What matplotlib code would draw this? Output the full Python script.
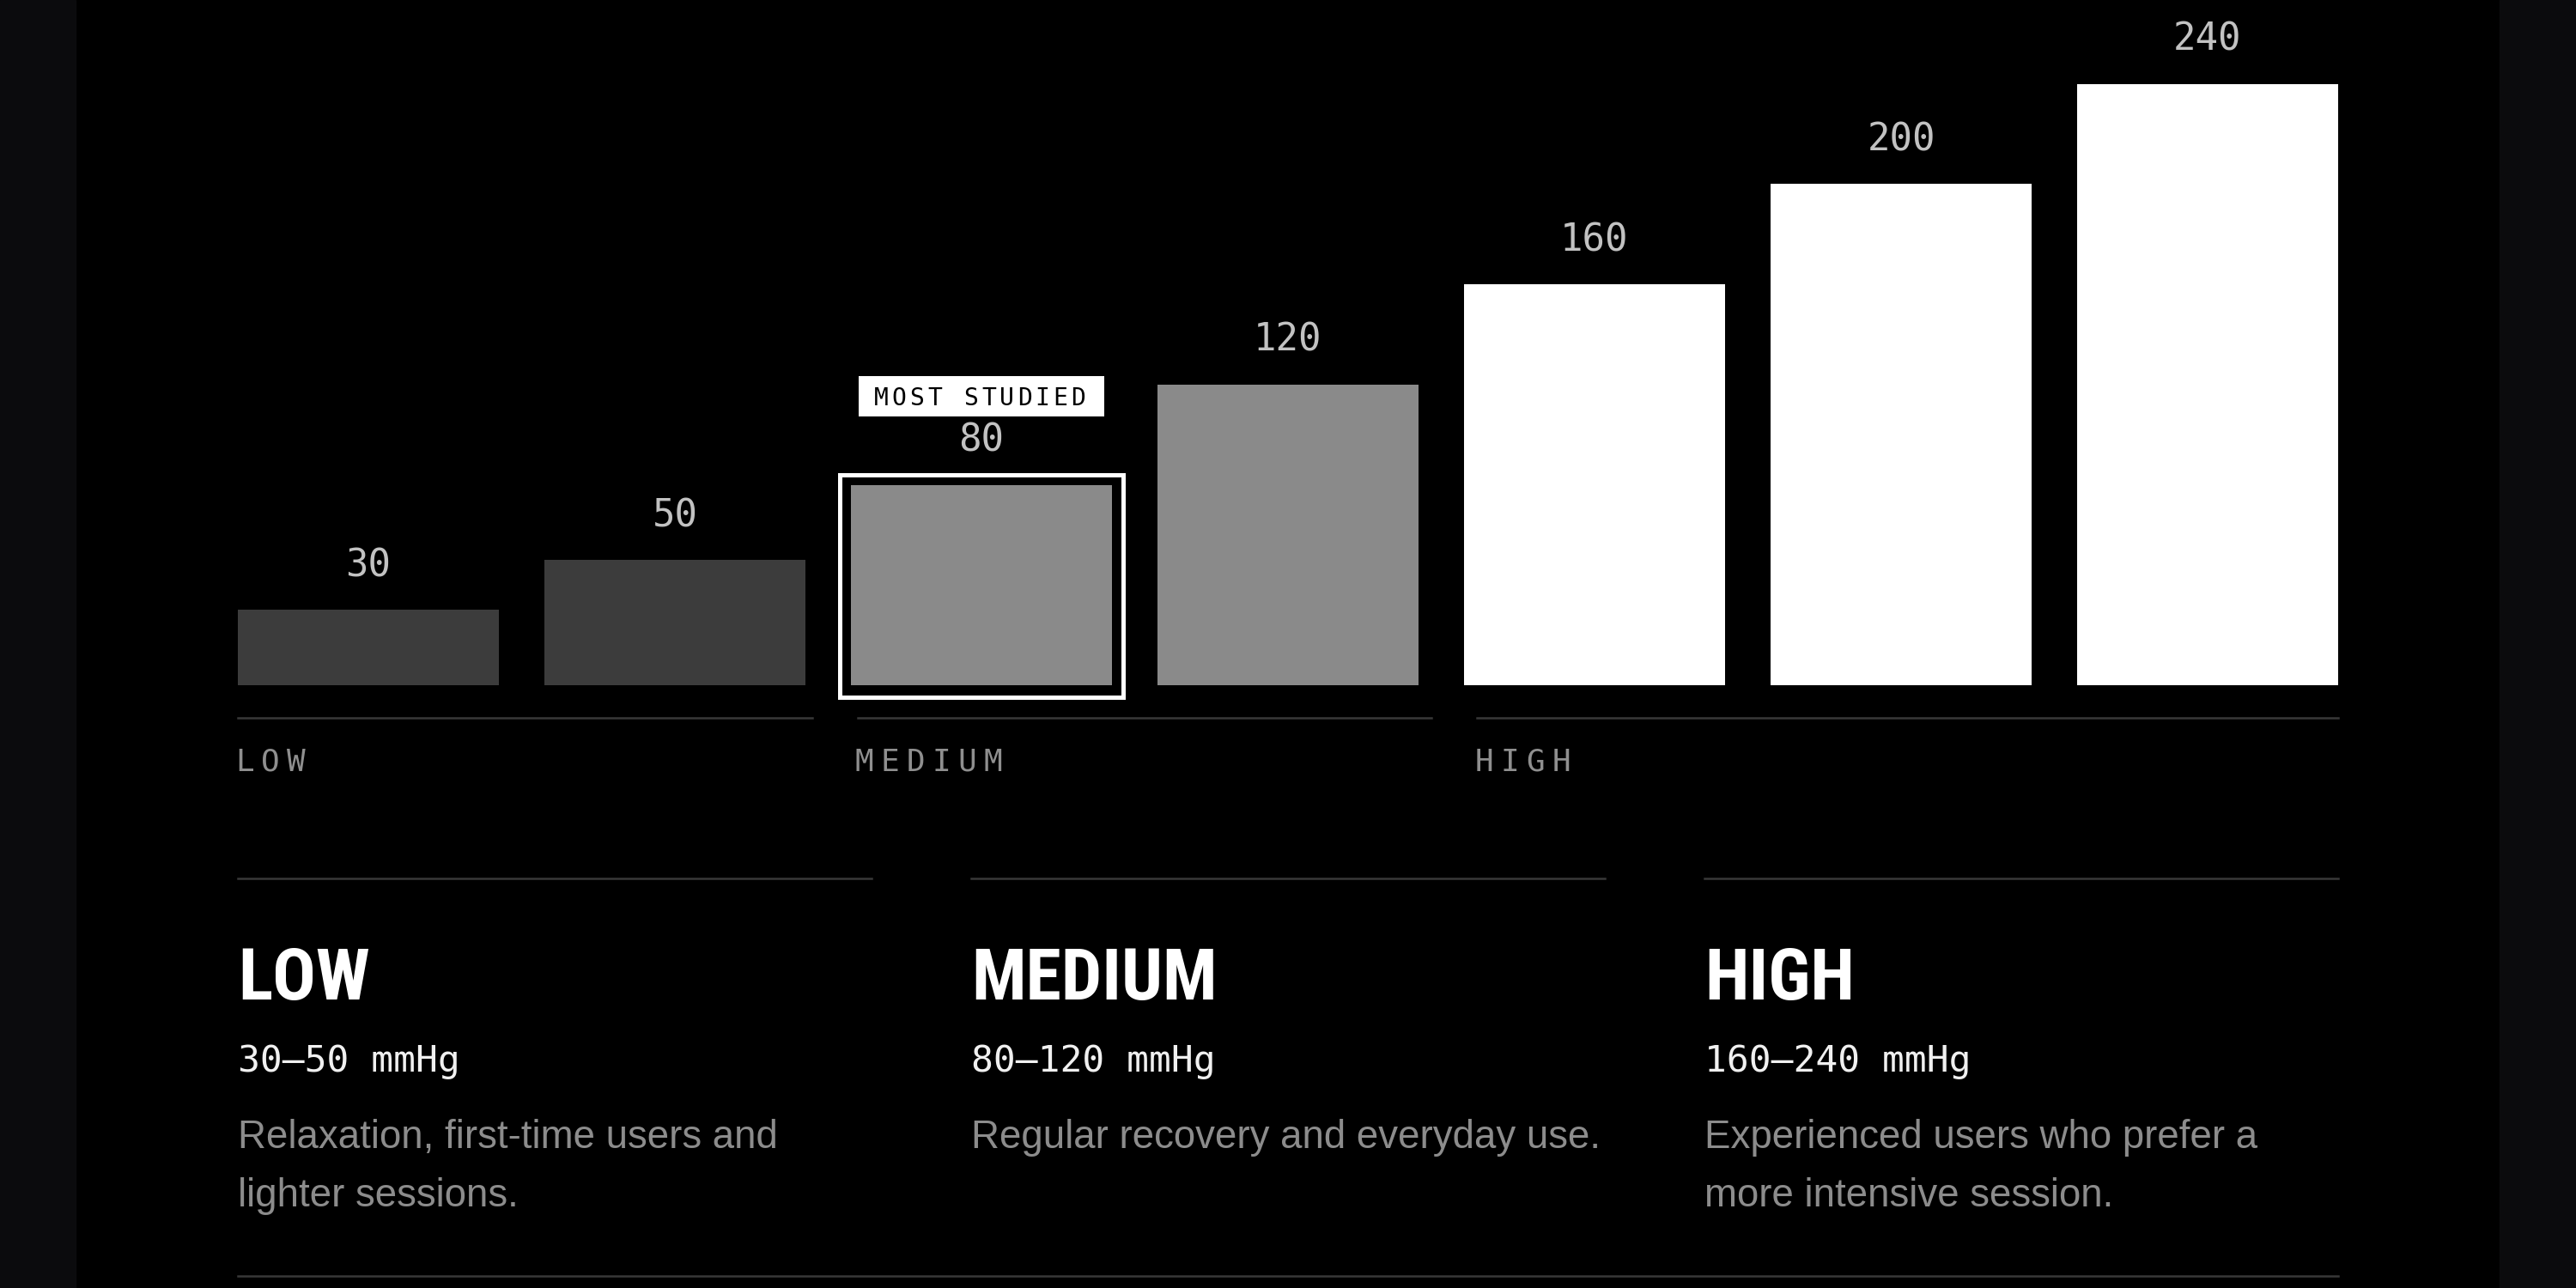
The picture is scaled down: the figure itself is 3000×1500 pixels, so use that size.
import matplotlib.pyplot as plt
from matplotlib import font_manager
from matplotlib.font_manager import FontProperties
from matplotlib.patches import Rectangle
from matplotlib.lines import Line2D
from matplotlib.transforms import IdentityTransform

# pressure levels (mmHg), one bar each
levels = [30, 50, 80, 120, 160, 200, 240]
bar_colors = ['#3c3c3c', '#3c3c3c', '#8a8a8a', '#8a8a8a', '#ffffff', '#ffffff', '#ffffff']
highlight = 2
highlight_text = 'MOST STUDIED'

# groups under the bars and the cards below
groups = ['LOW', 'MEDIUM', 'HIGH']
group_sizes = [2, 2, 3]
ranges = ['30–50 mmHg', '80–120 mmHg', '160–240 mmHg']
notes = ['Relaxation, first-time users and\nlighter sessions.',
         'Regular recovery and everyday use.',
         'Experienced users who prefer a\nmore intensive session.']

W, H = 3000, 1500
MONO = 'DejaVu Sans Mono'
SANS = ['Liberation Sans', 'DejaVu Sans']
LINE = '#383838'


def fx(x):
    return x / W


def fy(y):
    return 1 - y / H


def pt(px):
    return px * 72 / 100


def hline(x0, x1, y):
    fig.add_artist(Line2D([fx(x0), fx(x1)], [fy(y), fy(y)], color=LINE,
                          lw=pt(2.5), transform=fig.transFigure))


def heading_font():
    # look for a narrow / condensed bold face for the card headings
    order = ['Liberation Sans Narrow', 'Arial Narrow', 'Roboto Condensed',
             'Noto Sans', 'Open Sans', 'Roboto', 'DejaVu Sans', 'Inter']
    best = None
    for f in font_manager.fontManager.ttflist:
        narrow = ('Narrow' in f.name or 'Condensed' in f.name
                  or f.stretch in ('condensed', 'semi-condensed', 625, 750))
        bold = f.weight in ('bold', 700)
        if not (narrow and bold and f.style == 'normal'):
            continue
        base = next((k for k, o in enumerate(order) if f.name.startswith(o)), 99)
        rank = (base, 0 if f.stretch in ('condensed', 625) or 'Narrow' in f.name else 1)
        if best is None or rank < best[0]:
            best = (rank, f.fname)
    if best:
        return FontProperties(fname=best[1])
    return FontProperties(family='Liberation Sans', weight='bold')


fig = plt.figure(figsize=(30, 15), dpi=100, facecolor='black')
fig.add_artist(Rectangle((0, 0), fx(88), 1, color='#0b0b0d', transform=fig.transFigure))
fig.add_artist(Rectangle((fx(2911), 0), 1 - fx(2911), 1, color='#0b0b0d',
                         transform=fig.transFigure))

# bar area
left, right, base = 277, 2723, 798
gap = 53
n = len(levels)
bw = (right - left - gap * (n - 1)) / n
wfrac = bw / (bw + gap)

ax = fig.add_axes([fx(left), fy(base), fx(right - left), base / H])
ax.axis('off')
ax.set_xlim(-wfrac / 2, n - 1 + wfrac / 2)
ax.set_ylim(0, 273.5)
bars = ax.bar(range(n), levels, width=wfrac, color=bar_colors, zorder=2)

for i, v in enumerate(levels):
    ax.annotate(str(v), (i, v), xytext=(0, 39), textcoords='offset pixels',
                ha='center', va='baseline', family=MONO, fontsize=pt(44),
                color='#c2c2c2', annotation_clip=False)

# frame around the highlighted bar
x0, y0 = ax.transData.transform((highlight - wfrac / 2, 0))
x1, y1 = ax.transData.transform((highlight + wfrac / 2, levels[highlight]))
ax.add_patch(Rectangle((x0 - 12.5, y0 - 13.5), (x1 - x0) + 26, (y1 - y0) + 25,
                       fill=False, ec='white', lw=pt(5), transform=IdentityTransform(),
                       clip_on=False, zorder=3))

# "MOST STUDIED" tag
cx = (x0 + x1) / 2
ax.add_patch(Rectangle((cx - 143, y1 + 80), 286, 47, fc='white', ec='none',
                       transform=IdentityTransform(), clip_on=False, zorder=3))
tag_pitch = 20.9
for k, ch in enumerate(highlight_text):
    dx = (k - (len(highlight_text) - 1) / 2) * tag_pitch - 2
    ax.annotate(ch, (highlight, levels[highlight]), xytext=(dx, 93),
                textcoords='offset pixels', ha='center', va='baseline', family=MONO,
                fontsize=pt(28), color='#000000', zorder=4,
                annotation_clip=False)

# group rules and labels under the bars
avail = (right - left) - gap * (len(groups) - 1)
gx = left
for name, size in zip(groups, group_sizes):
    gw = avail * size / sum(group_sizes)
    hline(gx, gx + gw, 836)
    for k, ch in enumerate(name):
        fig.text(fx(gx - 3 + k * 30), fy(898), ch, ha='left', va='baseline', family=MONO,
                 fontsize=pt(36), color='#8f8f8f')
    gx += gw + gap

# cards
hfont = heading_font()
hfont.set_size(pt(84))
col_gap = 116
cw = (right - left - col_gap * 2) / 3
for j, (name, rng, note) in enumerate(zip(groups, ranges, notes)):
    cx0 = left + j * (cw + col_gap)
    hline(cx0, cx0 + cw, 1023)
    fig.text(fx(cx0), fy(1164), name, ha='left', va='baseline', fontproperties=hfont,
             color='white')
    fig.text(fx(cx0), fy(1248), rng, ha='left', va='baseline', family=MONO,
             fontsize=pt(43), color='#f0f0f0')
    for m, line in enumerate(note.split('\n')):
        fig.text(fx(cx0), fy(1337 + m * 68), line, ha='left', va='baseline', family=SANS,
                 fontsize=pt(45.6), color='#8c8c8c')
hline(left, right, 1486)

fig.savefig('out.png', dpi=100, facecolor=fig.get_facecolor())
